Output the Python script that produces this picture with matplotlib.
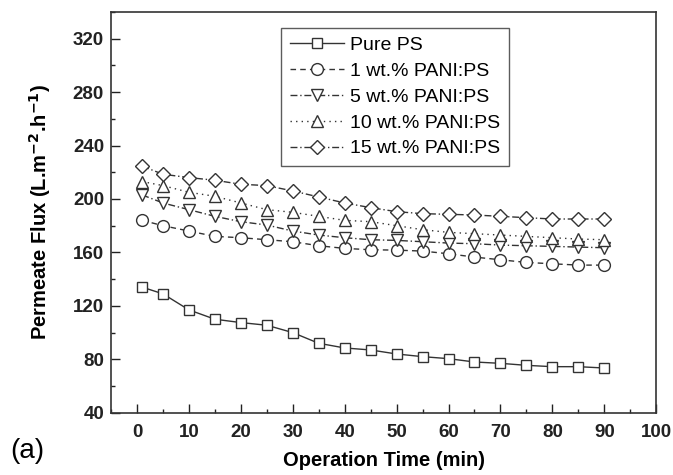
import matplotlib
matplotlib.use('Agg')
import matplotlib.pyplot as plt
from matplotlib.ticker import MultipleLocator

# permeate flux vs operation time for the PS / PANI:PS membranes
time_min = [1, 5, 10, 15, 20, 25, 30, 35, 40, 45, 50, 55, 60, 65, 70, 75, 80, 85, 90]
pure_ps = [134, 129, 117, 110, 107.5, 105.5, 100, 92, 88.5, 87, 84, 82, 80.5, 78, 77, 75.5, 74.5, 74.5, 73.5]
pani_1 = [184, 180, 176, 172, 171, 169.5, 168, 165, 163, 162, 161.7, 161, 159, 156.5, 154.5, 152.5, 151.5, 150.5, 150.5]
pani_5 = [203, 197, 192, 187, 183, 180.5, 176, 173, 171, 169.5, 169, 168, 167, 166.5, 165.5, 165, 164.5, 164, 163.5]
pani_10 = [213, 210, 205, 202, 197, 192, 190, 187, 184, 183, 180, 177, 175, 174, 173, 172, 171, 170, 169.5]
pani_15 = [224.5, 218.5, 216, 214, 211, 210, 206, 201.5, 197, 193.5, 190.5, 189, 188.5, 188, 187, 186, 185, 185, 185]

labels = ['Pure PS', '1 wt.% PANI:PS', '5 wt.% PANI:PS', '10 wt.% PANI:PS', '15 wt.% PANI:PS']
series = [pure_ps, pani_1, pani_5, pani_10, pani_15]
markers = ['s', 'o', 'v', '^', 'D']
msizes = [7.5, 8.5, 9, 9, 7.5]
styles = ['-', (0, (4, 3)), (0, (5, 2, 1, 2)), (0, (1, 3)), (0, (5, 2, 1, 2))]

plt.rcParams['font.family'] = ['Liberation Sans', 'DejaVu Sans']

fig = plt.figure(figsize=(6.73, 4.75), dpi=100)
ax = fig.add_axes([0.165, 0.131, 0.81, 0.844])

for y, lab, m, ms, ls in zip(series, labels, markers, msizes, styles):
    ax.plot(time_min, y, linestyle=ls, color='#333333', lw=1.0,
            marker=m, markersize=ms, markerfacecolor='white',
            markeredgecolor='#333333', markeredgewidth=1.0, label=lab)

ax.set_xlim(-5, 100)
ax.set_ylim(40, 340)
ax.xaxis.set_major_locator(MultipleLocator(10))
ax.xaxis.set_minor_locator(MultipleLocator(5))
ax.yaxis.set_major_locator(MultipleLocator(40))
ax.yaxis.set_minor_locator(MultipleLocator(20))
ax.tick_params(which='both', direction='in', top=False, right=False, width=1.0, colors='#222222')
ax.tick_params(which='major', length=6.5, labelsize=13.5)
ax.tick_params(which='minor', length=3)
ax.tick_params(axis='x', which='major', pad=8)
ax.tick_params(axis='y', which='major', pad=5)
for lbl in ax.get_xticklabels() + ax.get_yticklabels():
    lbl.set_fontweight('bold')
for sp in ax.spines.values():
    sp.set_linewidth(1.2)
    sp.set_color('#333333')

ax.set_xlabel('Operation Time (min)', fontsize=14.5, fontweight='bold', labelpad=7)
ax.set_ylabel(r'Permeate Flux (L.m$^{\mathbf{-2}}$.h$^{\mathbf{-1}}$)', fontsize=14.5,
              fontweight='bold', labelpad=14)

leg = ax.legend(loc='upper left', bbox_to_anchor=(0.312, 0.96), borderaxespad=0,
                fontsize=14, fancybox=False, frameon=True, handlelength=2.8,
                handletextpad=0.3, labelspacing=0.42, borderpad=0.45)
leg.get_frame().set_edgecolor('#333333')
leg.get_frame().set_linewidth(1.0)

fig.text(0.015, 0.035, '(a)', fontsize=20)

fig.savefig('out.png', dpi=100)
